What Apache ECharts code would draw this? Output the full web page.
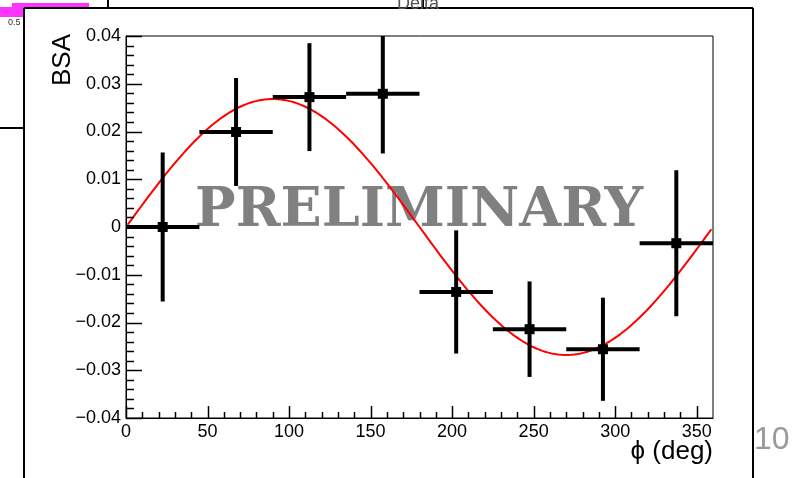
<!DOCTYPE html>
<html>
<head>
<meta charset="utf-8">
<script src="https://cdn.jsdelivr.net/npm/echarts@6/dist/echarts.min.js"></script>
<style>html,body{margin:0;padding:0;background:#fff;}#c{width:798px;height:478px;}</style>
</head>
<body>
<div id="c"></div>
<script>
// ---- data ----
const phiCenters = [22.5, 67.5, 112.5, 157.5, 202.5, 247.5, 292.5, 337.5];
const phiHalfWidth = [22.5, 22.5, 22.5, 22.5, 22.5, 22.5, 22.5, 22.5];
const bsaValues = [0.0000, 0.0199, 0.0272, 0.0279, -0.0136, -0.0214, -0.0256, -0.0034];
const bsaErrors = [0.0156, 0.0113, 0.0113, 0.0125, 0.0129, 0.0100, 0.0108, 0.0153];
const xTickLabels = ['0', '50', '100', '150', '200', '250', '300', '350'];
const yTickLabels = ['0.04', '0.03', '0.02', '0.01', '0', '−0.01', '−0.02', '−0.03', '−0.04'];
const xMajorTicks = [0, 50, 100, 150, 200, 250, 300, 350];
const yMajorTicks = [-0.04, -0.03, -0.02, -0.01, 0, 0.01, 0.02, 0.03, 0.04];
const xMinorTicks = [10, 20, 30, 40, 60, 70, 80, 90, 110, 120, 130, 140, 160, 170, 180, 190,
  210, 220, 230, 240, 260, 270, 280, 290, 310, 320, 330, 340];
const yMinorTicks = [-0.038, -0.036, -0.034, -0.032, -0.028, -0.026, -0.024, -0.022,
  -0.018, -0.016, -0.014, -0.012, -0.008, -0.006, -0.004, -0.002,
  0.002, 0.004, 0.006, 0.008, 0.012, 0.014, 0.016, 0.018,
  0.022, 0.024, 0.026, 0.028, 0.032, 0.034, 0.036, 0.038];
// fit: A * sin(phi)
const fitParams = [0.0268];

const points = phiCenters.map((p, i) => [p, bsaValues[i], phiHalfWidth[i], bsaErrors[i]]);
const fitCurve = [];
for (let d = 1; d <= 359; d += 2) {
  fitCurve.push([d, fitParams[0] * Math.sin(d * Math.PI / 180)]);
}

const FONT = 'Liberation Sans, Arial, sans-serif';
const chart = echarts.init(document.getElementById('c'), null, {renderer: 'canvas'});

function yLabel(v) {
  if (Math.abs(v) < 1e-9) return '0';
  const s = (v < 0 ? '−' : '') + Math.abs(v).toFixed(2);
  return yTickLabels.indexOf(s) >= 0 ? s : '';
}

const staticGraphics = [
  // plot frame
  {type: 'rect', z: 0, shape: {x: 126, y: 36, width: 587, height: 382}, style: {fill: null, stroke: '#000', lineWidth: 1}},
  // PRELIMINARY watermark (below series)
  {type: 'text', z: 1, x: 419, y: 185, style: {text: 'PRELIMINARY', fill: '#808080',
    font: 'bold 54px "DejaVu Serif", serif', align: 'center', verticalAlign: 'top'}},
  // y title
  {type: 'text', z: 5, rotation: Math.PI / 2, x: 50, y: 34,
    style: {text: 'BSA', fill: '#000', font: '26px ' + FONT, align: 'right', verticalAlign: 'top'}},
  // x title
  {type: 'text', z: 5, x: 713, y: 452,
    style: {text: 'ϕ (deg)', fill: '#000', font: '26px ' + FONT, align: 'right', verticalAlign: 'middle'}},
  // pad frames and neighbouring canvas pieces
  {type: 'rect', z: 0, shape: {x: 12, y: 3, width: 77, height: 4}, style: {fill: '#ff33ff'}},
  {type: 'rect', z: 0, shape: {x: 0, y: 7, width: 24, height: 10}, style: {fill: '#ff33ff'}},
  {type: 'text', z: 5, x: 8, y: 23, style: {text: '0.5', fill: '#333', font: '9px ' + FONT, verticalAlign: 'middle'}},
  {type: 'line', z: 5, shape: {x1: 108, y1: 0, x2: 108, y2: 8}, style: {stroke: '#000', lineWidth: 2}},
  {type: 'line', z: 5, shape: {x1: 423, y1: 0, x2: 423, y2: 8}, style: {stroke: '#000', lineWidth: 2}},
  {type: 'line', z: 5, shape: {x1: 0, y1: 128, x2: 24, y2: 128}, style: {stroke: '#000', lineWidth: 2}},
  {type: 'line', z: 5, shape: {x1: 24, y1: 8, x2: 753, y2: 8}, style: {stroke: '#000', lineWidth: 2}},
  {type: 'line', z: 5, shape: {x1: 24, y1: 8, x2: 24, y2: 478}, style: {stroke: '#000', lineWidth: 2}},
  {type: 'line', z: 5, shape: {x1: 753, y1: 8, x2: 753, y2: 478}, style: {stroke: '#000', lineWidth: 2}},
  {type: 'text', z: 5, x: 418, y: 13, style: {text: 'Delta', fill: '#555', font: '18px ' + FONT, align: 'center', verticalAlign: 'bottom'}},
  {type: 'text', z: 5, x: 754, y: 440, style: {text: '10', fill: '#999', font: '32px ' + FONT, align: 'left', verticalAlign: 'middle'}}
];

chart.setOption({
  animation: false,
  backgroundColor: '#fff',
  grid: {left: 126, top: 36, right: 85, bottom: 60, show: false},
  xAxis: {
    type: 'value', min: 0, max: 360, interval: 50, position: 'bottom',
    axisLine: {show: true, onZero: false, lineStyle: {color: '#000', width: 1}},
    axisTick: {show: false},
    axisLabel: {show: true, margin: 5, color: '#000', fontFamily: FONT, fontSize: 18,
      formatter: v => { const s = String(Math.round(v)); return xTickLabels.indexOf(s) >= 0 ? s : ''; }},
    splitLine: {show: false}
  },
  yAxis: {
    type: 'value', min: -0.04, max: 0.04, interval: 0.01, position: 'left',
    axisLine: {show: true, onZero: false, lineStyle: {color: '#000', width: 1}},
    axisTick: {show: false},
    axisLabel: {show: true, margin: 5, color: '#000', fontFamily: FONT, fontSize: 18, formatter: yLabel},
    splitLine: {show: false}
  },
  graphic: staticGraphics,
  series: [{
    type: 'line', z: 2, data: fitCurve, showSymbol: false, symbol: 'none', smooth: false,
    lineStyle: {color: '#ff0000', width: 2}, silent: true
  }, {
    type: 'custom', z: 3, data: points, clip: true,
    renderItem: function (params, api) {
      const x = api.value(0), y = api.value(1), ex = api.value(2), ey = api.value(3);
      const c = api.coord([x, y]);
      const l = api.coord([x - ex, y]), r = api.coord([x + ex, y]);
      const t = api.coord([x, y + ey]), b = api.coord([x, y - ey]);
      return {type: 'group', children: [
        {type: 'line', shape: {x1: l[0], y1: c[1], x2: r[0], y2: c[1]}, style: {stroke: '#000', lineWidth: 4}},
        {type: 'line', shape: {x1: c[0], y1: t[1], x2: c[0], y2: b[1]}, style: {stroke: '#000', lineWidth: 4}},
        {type: 'rect', shape: {x: c[0] - 5, y: c[1] - 5, width: 10, height: 10}, style: {fill: '#000'}}
      ]};
    }
  }]
});

// axis ticks (major and minor) positioned through the chart's own axis scales
const tickGraphics = [];
function addXTick(v, len) {
  const p = chart.convertToPixel({xAxisIndex: 0, yAxisIndex: 0}, [v, -0.04]);
  const px = Math.round(p[0]) + 0.5;
  tickGraphics.push({type: 'line', z: 6, shape: {x1: px, y1: p[1], x2: px, y2: p[1] - len}, style: {stroke: '#000', lineWidth: 1.5}});
}
function addYTick(v, len) {
  const p = chart.convertToPixel({xAxisIndex: 0, yAxisIndex: 0}, [0, v]);
  const py = Math.round(p[1]) + 0.5;
  tickGraphics.push({type: 'line', z: 6, shape: {x1: p[0], y1: py, x2: p[0] + len, y2: py}, style: {stroke: '#000', lineWidth: 1.5}});
}
xMajorTicks.forEach(v => addXTick(v, 12));
xMinorTicks.forEach(v => addXTick(v, 6));
yMajorTicks.forEach(v => addYTick(v, 16));
yMinorTicks.forEach(v => addYTick(v, 8));
chart.setOption({graphic: staticGraphics.concat(tickGraphics)});
</script>
</body>
</html>
